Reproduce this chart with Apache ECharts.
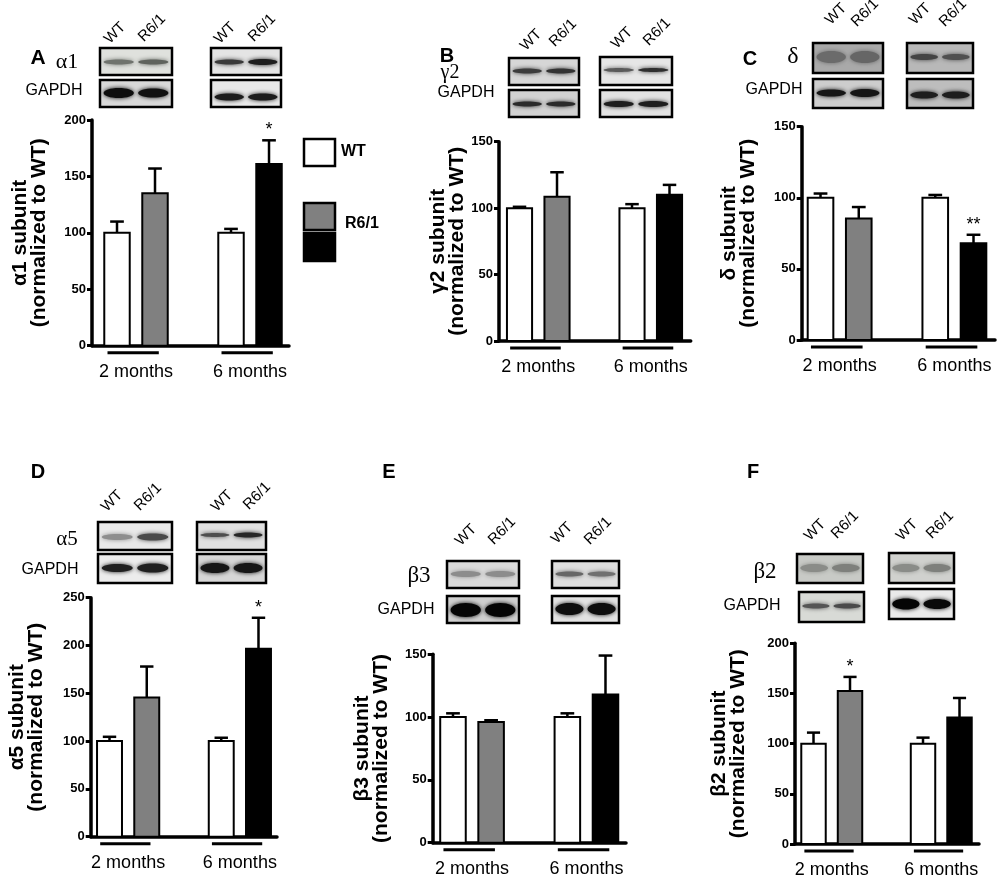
<!DOCTYPE html>
<html>
<head>
<meta charset="utf-8">
<script src="https://cdn.jsdelivr.net/npm/echarts/dist/echarts.min.js"></script>
<style>
  html, body { margin: 0; padding: 0; background: #fff; }
  #fig { width: 1000px; height: 876px; }
</style>
</head>
<body>
<div id="fig"></div>
<script>
// bar order in every panel: WT 2 months, R6/1 2 months, WT 6 months, R6/1 6 months
var groups = ['2 months', '6 months'];
var genotypes = ['WT', 'R6/1'];

var alpha1Mean = [100, 135, 100, 161];
var alpha1Sem = [10, 22, 3.5, 21];
var alpha1Sig = ['', '', '', '*'];

var gamma2Mean = [100, 108.5, 100, 110];
var gamma2Sem = [1, 18.5, 3, 7.5];
var gamma2Sig = ['', '', '', ''];

var deltaMean = [100, 85.5, 100, 68];
var deltaSem = [3, 8, 2, 6];
var deltaSig = ['', '', '', '**'];

var alpha5Mean = [100, 145.5, 100, 196.5];
var alpha5Sem = [4.5, 32.5, 3.5, 32.5];
var alpha5Sig = ['', '', '', '*'];

var beta3Mean = [100, 96, 100, 118];
var beta3Sem = [3, 1.5, 3, 31];
var beta3Sig = ['', '', '', ''];

var beta2Mean = [100, 152.5, 100, 126];
var beta2Sem = [11, 14, 6, 19.5];
var beta2Sig = ['', '*', '', ''];

var FONT = "'Liberation Sans', Arial, sans-serif";
var SERIF = "'Liberation Serif', 'Times New Roman', serif";

// slot positions on the x value axis (gap between the two age groups)
var barSlots = [1, 2, 4, 5];
var groupSlots = [1.5, 4.5];
var barFill = ['#ffffff', '#808080', '#ffffff', '#000000'];

var panels = [
  { mean: alpha1Mean, sem: alpha1Sem, sig: alpha1Sig, yMax: 200, name: 'α1 subunit\n(normalized to WT)',
    box: [92, 120, 289, 345.7], xr: [0.342, 5.526], gap: 43 },
  { mean: gamma2Mean, sem: gamma2Sem, sig: gamma2Sig, yMax: 150, name: 'γ2 subunit\n(normalized to WT)',
    box: [499, 141.7, 690.7, 341], xr: [0.453, 5.565], gap: 32 },
  { mean: deltaMean, sem: deltaSem, sig: deltaSig, yMax: 150, name: 'δ subunit\n(normalized to WT)',
    box: [801.7, 126.7, 995, 340], xr: [0.508, 5.562], gap: 44 },
  { mean: alpha5Mean, sem: alpha5Sem, sig: alpha5Sig, yMax: 250, name: 'α5 subunit\n(normalized to WT)',
    box: [90.7, 597.7, 277, 836.7], xr: [0.495, 5.497], gap: 45 },
  { mean: beta3Mean, sem: beta3Sem, sig: beta3Sig, yMax: 150, name: 'β3 subunit\n(normalized to WT)',
    box: [432.7, 654.3, 626, 842.7], xr: [0.468, 5.538], gap: 42 },
  { mean: beta2Mean, sem: beta2Sem, sig: beta2Sig, yMax: 200, name: 'β2 subunit\n(normalized to WT)',
    box: [795, 643.3, 979, 844], xr: [0.493, 5.534], gap: 47 }
];

function barRender(p) {
  return function (params, api) {
    var i = params.dataIndex;
    var pos = api.value(0), mean = api.value(1), sem = api.value(2);
    var base = api.coord([pos, 0]);
    var top = api.coord([pos, mean]);
    var err = api.coord([pos, mean + sem]);
    var slot = api.size([1, 0])[0];
    var bw = slot * 0.67, cap = slot * 0.36;
    var kids = [
      { type: 'line', shape: { x1: top[0], y1: top[1], x2: err[0], y2: err[1] },
        style: { stroke: '#000', lineWidth: 2.5 } },
      { type: 'line', shape: { x1: top[0] - cap / 2, y1: err[1], x2: top[0] + cap / 2, y2: err[1] },
        style: { stroke: '#000', lineWidth: 2.5 } },
      { type: 'rect', shape: { x: base[0] - bw / 2, y: top[1], width: bw, height: base[1] - top[1] },
        style: { fill: barFill[i], stroke: '#000', lineWidth: 2 } }
    ];
    if (p.sig[i]) {
      kids.push({ type: 'text', x: top[0], y: err[1] - 1,
        style: { text: p.sig[i], font: '18px ' + FONT, fill: '#000',
                 align: 'center', textAlign: 'center', verticalAlign: 'bottom', textVerticalAlign: 'bottom' } });
    }
    return { type: 'group', children: kids };
  };
}

function groupRender(params, api) {
  var c = api.coord([api.value(0), 0]);
  var slot = api.size([1, 0])[0];
  return { type: 'group', children: [
    { type: 'line', shape: { x1: c[0] - 0.75 * slot, y1: c[1] + 7, x2: c[0] + 0.6 * slot, y2: c[1] + 7 },
      style: { stroke: '#000', lineWidth: 3 } },
    { type: 'text', x: c[0], y: c[1] + 26,
      style: { text: groups[params.dataIndex], font: '18px ' + FONT, fill: '#000',
               align: 'center', textAlign: 'center', verticalAlign: 'middle', textVerticalAlign: 'middle' } }
  ] };
}

var grids = [], xAxes = [], yAxes = [], series = [];
panels.forEach(function (p, k) {
  grids.push({ left: p.box[0], top: p.box[1], width: p.box[2] - p.box[0], height: p.box[3] - p.box[1] });
  xAxes.push({ gridIndex: k, type: 'value', min: p.xr[0], max: p.xr[1],
    axisLine: { lineStyle: { color: '#000', width: 3.5 } },
    axisTick: { show: false }, axisLabel: { show: false }, splitLine: { show: false } });
  yAxes.push({ gridIndex: k, type: 'value', min: 0, max: p.yMax, interval: 50,
    name: p.name, nameLocation: 'middle', nameRotate: 90, nameGap: p.gap,
    nameTextStyle: { fontFamily: FONT, fontWeight: 'bold', fontSize: 21, lineHeight: 19, color: '#000' },
    axisLine: { show: true, lineStyle: { color: '#000', width: 3.5 } },
    axisTick: { show: true, length: 5, lineStyle: { color: '#000', width: 3 } },
    axisLabel: { margin: 6, fontFamily: FONT, fontWeight: 'bold', fontSize: 13, color: '#000' },
    splitLine: { show: false } });
  series.push({ type: 'custom', xAxisIndex: k, yAxisIndex: k, clip: false,
    data: p.mean.map(function (m, i) { return [barSlots[i], m, p.sem[i]]; }),
    renderItem: barRender(p) });
  series.push({ type: 'custom', xAxisIndex: k, yAxisIndex: k, clip: false,
    data: groupSlots.map(function (s) { return [s, 0]; }),
    renderItem: groupRender });
});

// ---- decorations: blots, lane labels, panel letters, legend ----
var graphics = [];

function txt(x, y, s, font, align, rot) {
  graphics.push({ type: 'text', x: x, y: y, rotation: rot || 0,
    style: { text: s, font: font, fill: '#000', align: align || 'center', textAlign: align || 'center',
             verticalAlign: 'middle', textVerticalAlign: 'middle' } });
}

// blot box: x, y, w, h, background, [wt band colour, wt band height, r6 band colour, r6 band height], band centre y
function blot(x, y, w, h, bg, b, cy) {
  var kids = [{ type: 'rect', shape: { x: x, y: y, width: w, height: h },
    style: { fill: bg, stroke: 'none' } }];
  [[0.26, b[0], b[1]], [0.74, b[2], b[3]]].forEach(function (l) {
    kids.push({ type: 'ellipse', shape: { cx: x + w * l[0], cy: cy, rx: w * 0.21, ry: l[2] / 2 },
      style: { fill: l[1], shadowBlur: 4, shadowColor: l[1] } });
  });
  kids.push({ type: 'rect', shape: { x: x, y: y, width: w, height: h },
    style: { fill: 'none', stroke: '#000', lineWidth: 2.5 } });
  graphics.push({ type: 'group', children: kids });
}

function lanes(pts) {
  pts.forEach(function (q, j) {
    txt(q[0], q[1], genotypes[j % 2], '15px ' + FONT, 'center', Math.PI / 4);
  });
}

// A
blot(100, 48, 72, 27, '#dfe1dd', ['#6f736d', 5, '#5f635d', 5], 62);
blot(211, 48, 70, 27, '#e4e4e4', ['#3a3a3a', 5, '#1e1e1e', 6], 62);
blot(100, 80, 72, 27, '#d8d8d8', ['#0e0e0e', 10, '#111111', 9], 93);
blot(211, 80, 70, 27, '#e8e8e8', ['#1c1c1c', 7, '#1c1c1c', 7], 97);
lanes([[115, 33], [152, 28], [225, 33], [262, 28]]);
txt(38, 58, 'A', 'bold 21px ' + FONT);
txt(67, 62, 'α1', '22px ' + SERIF);
txt(54, 91, 'GAPDH', '16px ' + FONT);

// B
blot(509, 58, 70, 27, '#d6d6d6', ['#3c3c3c', 5, '#333333', 5], 71);
blot(600, 57, 72, 28, '#e6e6e6', ['#5a5a5a', 4, '#2e2e2e', 4], 70);
blot(509, 90, 70, 27, '#d2d2d2', ['#2a2a2a', 5, '#2a2a2a', 5], 104);
blot(600, 90, 72, 27, '#e2e2e2', ['#1e1e1e', 6, '#1e1e1e', 6], 104);
lanes([[531, 40], [563, 33], [622, 38], [657, 32]]);
txt(447, 56, 'B', 'bold 20px ' + FONT);
txt(450, 73, 'γ2', '20px ' + SERIF);
txt(466, 93, 'GAPDH', '16px ' + FONT);

// C
blot(813, 43, 70, 30, '#a9a9a9', ['#6b6b6b', 12, '#666666', 12], 57);
blot(907, 43, 66, 30, '#b8b8b8', ['#444444', 6, '#505050', 6], 57);
blot(813, 79, 70, 29, '#cdcdcd', ['#161616', 7, '#161616', 8], 93);
blot(907, 79, 66, 29, '#bdbdbd', ['#1e1e1e', 7, '#1e1e1e', 7], 95);
lanes([[836, 14], [865, 13], [920, 14], [953, 13]]);
txt(750, 59, 'C', 'bold 20px ' + FONT);
txt(793, 57, 'δ', '24px ' + SERIF);
txt(774, 90, 'GAPDH', '16px ' + FONT);

// D
blot(98, 522, 74, 28, '#e9e9e9', ['#8e8e8e', 6, '#4a4a4a', 7], 537);
blot(197, 522, 69, 28, '#e0e0e0', ['#4e4e4e', 4, '#262626', 5], 535);
blot(98, 554, 74, 29, '#ececec', ['#202020', 8, '#202020', 9], 568);
blot(197, 554, 69, 29, '#d6d6d6', ['#161616', 10, '#161616', 10], 568);
lanes([[112, 501], [148, 497], [222, 501], [257, 496]]);
txt(38, 472, 'D', 'bold 20px ' + FONT);
txt(67, 539, 'α5', '21px ' + SERIF);
txt(50, 570, 'GAPDH', '16px ' + FONT);

// E
blot(447, 561, 72, 27, '#dadada', ['#8c8c8c', 6, '#8c8c8c', 6], 574);
blot(552, 561, 67, 27, '#dedede', ['#666666', 5, '#707070', 5], 574);
blot(447, 596, 72, 27, '#cfcfcf', ['#050505', 14, '#050505', 14], 610);
blot(552, 596, 67, 27, '#e2e2e2', ['#0e0e0e', 12, '#0e0e0e', 12], 609);
lanes([[466, 535], [502, 531], [562, 533], [598, 531]]);
txt(389, 472, 'E', 'bold 20px ' + FONT);
txt(419, 576, 'β3', '23px ' + SERIF);
txt(406, 610, 'GAPDH', '16px ' + FONT);

// F
blot(797, 554, 66, 29, '#c8cac6', ['#8a8c88', 8, '#7e807c', 8], 568);
blot(889, 553, 65, 30, '#d0d1ce', ['#8a8c88', 8, '#7e807c', 8], 568);
blot(799, 592, 65, 30, '#d8dad6', ['#555555', 5, '#4a4a4a', 5], 606);
blot(889, 589, 65, 30, '#eaeaea', ['#050505', 11, '#0a0a0a', 10], 604);
lanes([[815, 530], [845, 525], [907, 530], [940, 525]]);
txt(753, 472, 'F', 'bold 20px ' + FONT);
txt(765, 572, 'β2', '23px ' + SERIF);
txt(752, 606, 'GAPDH', '16px ' + FONT);

// legend in panel A
graphics.push({ type: 'rect', shape: { x: 304, y: 139, width: 31, height: 27 },
  style: { fill: '#ffffff', stroke: '#000', lineWidth: 2.5 } });
graphics.push({ type: 'rect', shape: { x: 304, y: 203, width: 31, height: 27 },
  style: { fill: barFill[1], stroke: '#000', lineWidth: 2.5 } });
graphics.push({ type: 'rect', shape: { x: 304, y: 233, width: 31, height: 28 },
  style: { fill: barFill[3], stroke: '#000', lineWidth: 2.5 } });
txt(341, 152, genotypes[0], 'bold 16px ' + FONT, 'left');
txt(345, 224, genotypes[1], 'bold 16px ' + FONT, 'left');

var chart = echarts.init(document.getElementById('fig'), null, { renderer: 'canvas' });
chart.setOption({
  backgroundColor: '#ffffff',
  animation: false,
  grid: grids,
  xAxis: xAxes,
  yAxis: yAxes,
  series: series,
  graphic: graphics
});
</script>
</body>
</html>
